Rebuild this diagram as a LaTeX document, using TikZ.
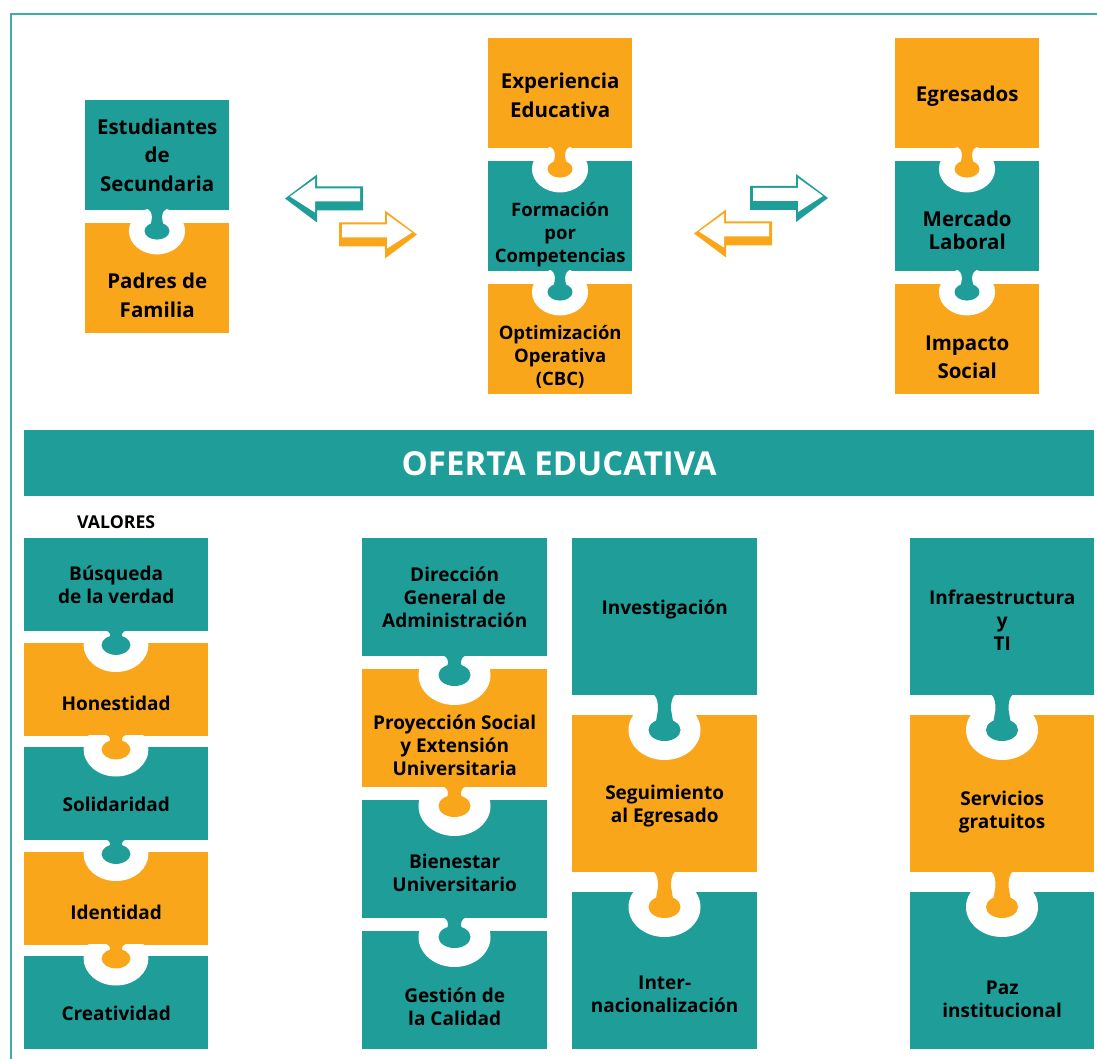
\documentclass[tikz,border=0pt]{standalone}
\usepackage{fontspec}
\setmainfont{Open Sans}
\usetikzlibrary{positioning}

\definecolor{verdeazul}{HTML}{1E9D99}
\definecolor{naranja}{HTML}{F9A61B}

\tikzset{
  pieza/.style={inner sep=0pt, anchor=north west},
  texto/.style={align=center, inner sep=0pt, font=\bfseries\fontsize{19}{23}\selectfont},
  flecha/.pic={
    \fill[fill=#1] (0,-12) -- (46,-12) -- (46,-24) -- (78,0) -- (46,24) -- (46,12) -- (0,12) -- cycle;
    \fill[white] (3,-10) -- (48,-10) -- (48,-20) -- (73,-2) -- (48,14) -- (48,3) -- (3,3) -- cycle;
  }
}

\newcommand{\encaje}[5]{%
  \pgfmathsetmacro\encx{#1}%
  \pgfmathsetmacro\ency{#2}%
  \pgfmathsetmacro\encc{#3}%
  \pgfmathsetmacro\encs{#5}%
  \pgfmathsetmacro\encm{(\ency+\encc)/2}%
  \begin{scope}
    \clip ({\encx-60},\ency) rectangle ({\encx+60},{\encc+60});
    \fill[white] (\encx,\encc) ellipse [x radius={36*\encs}, y radius={30*\encs}];
  \end{scope}
  \fill[fill=#4] (\encx,\encc) ellipse [x radius={16*\encs}, y radius={11*\encs}];
  \fill[fill=#4] ({\encx-12*\encs},{\ency-1}) .. controls ({\encx-6*\encs},{\ency+1}) and ({\encx-6*\encs},{\encm-3}) .. ({\encx-7*\encs},\encm) -- ({\encx-10*\encs},\encc) -- ({\encx+10*\encs},\encc) -- ({\encx+7*\encs},\encm) .. controls ({\encx+6*\encs},{\encm-3}) and ({\encx+6*\encs},{\ency+1}) .. ({\encx+12*\encs},{\ency-1}) -- cycle;
}

\begin{document}
\begin{tikzpicture}[x=1pt, y=-1pt]
\useasboundingbox (0,0) rectangle (1097,1059);
\draw[verdeazul!85!white, line width=2pt] (11,1070) |- (1110,14);

\foreach \txt/\col/\dy/\fs/\ls [count=\n] in {Estudiantes\\de\\Secundaria/verdeazul/0pt/20.5/28.5, Padres de\\Familia/naranja/-17pt/20.5/28.5}{
  \node[pieza, fill=\col, minimum width=144pt, minimum height=110pt] (E\n) at (85,{100+(\n-1)*123}) {};
  \node[texto, font=\bfseries\fontsize{\fs}{\ls}\selectfont] (Et\n) at ([yshift=\dy]E\n.center) {\txt};
}
\foreach \txt/\col/\dy/\fs/\ls [count=\n] in {Experiencia\\Educativa/naranja/-2pt/20.5/28.5, Formación\\por\\Competencias/verdeazul/-18pt/18.5/23, Optimización\\Operativa\\(CBC)/naranja/-18pt/18.5/23}{
  \node[pieza, fill=\col, minimum width=144pt, minimum height=110pt] (P\n) at (488,{38+(\n-1)*123}) {};
  \node[texto, font=\bfseries\fontsize{\fs}{\ls}\selectfont] (Pt\n) at ([yshift=\dy]P\n.center) {\txt};
}
\foreach \txt/\col/\dy/\fs/\ls [count=\n] in {Egresados/naranja/-3pt/20.5/28.5, Mercado\\Laboral/verdeazul/-14pt/20.5/23, Impacto\\Social/naranja/-18pt/20.5/28.5}{
  \node[pieza, fill=\col, minimum width=144pt, minimum height=110pt] (S\n) at (895,{38+(\n-1)*123}) {};
  \node[texto, font=\bfseries\fontsize{\fs}{\ls}\selectfont] (St\n) at ([yshift=\dy]S\n.center) {\txt};
}

\pic at (339,234.5) {flecha=naranja};
\pic[xscale=-1] at (363,198.5) {flecha=verdeazul};
\pic at (750,198) {flecha=verdeazul};
\pic[xscale=-1] at (772,233.5) {flecha=naranja};

\node[pieza, fill=verdeazul, minimum width=1070pt, minimum height=66pt, text=white, font=\bfseries\fontsize{33}{40}\selectfont] (oferta) at (24,430) {OFERTA EDUCATIVA};

\foreach \txt/\col/\dy [count=\n] in {Búsqueda\\de la verdad/verdeazul/0pt, Honestidad/naranja/-14pt, Solidaridad/verdeazul/-11pt, Identidad/naranja/-14pt, Creatividad/verdeazul/-11pt}{
  \node[pieza, fill=\col, minimum width=184pt, minimum height=93pt] (V\n) at (24,{538+(\n-1)*104.5}) {};
  \node[texto] (Vt\n) at ([yshift=\dy]V\n.center) {\txt};
}
\node[texto, font=\bfseries\fontsize{17.7}{20}\selectfont, above=9pt of V1] (valores) {VALORES};

\foreach \txt/\col/\dy [count=\n] in {Dirección\\General de\\Administración/verdeazul/0pt, Proyección Social\\y Extensión\\Universitaria/naranja/-17pt, Bienestar\\Universitario/verdeazul/-14pt, Gestión de\\la Calidad/verdeazul/-17pt}{
  \node[pieza, fill=\col, minimum width=185pt, minimum height=118pt] (G\n) at (362,{538+(\n-1)*131}) {};
  \node[texto] (Gt\n) at ([yshift=\dy]G\n.center) {\txt};
}
\foreach \txt/\col/\dy [count=\n] in {Investigación/verdeazul/7pt, Seguimiento\\al Egresado/naranja/-12pt, Inter-\\nacionalización/verdeazul/-24pt}{
  \node[pieza, fill=\col, minimum width=185pt, minimum height=157pt] (I\n) at (572,{538+(\n-1)*177}) {};
  \node[texto] (It\n) at ([yshift=\dy]I\n.center) {\txt};
}
\foreach \txt/\col/\dy [count=\n] in {Infraestructura\\y\\TI/verdeazul/-4pt, Servicios\\gratuitos/naranja/-18pt, Paz\\institucional/verdeazul/-29pt}{
  \node[pieza, fill=\col, minimum width=184pt, minimum height=157pt] (A\n) at (910,{538+(\n-1)*177}) {};
  \node[texto] (At\n) at ([yshift=\dy]A\n.center) {\txt};
}

\encaje{157}{210}{231}{verdeazul}{0.78}
\foreach \col [count=\n] in {naranja,verdeazul}{
  \encaje{560}{148+(\n-1)*123}{169+(\n-1)*123}{\col}{0.78}
  \encaje{967}{148+(\n-1)*123}{169+(\n-1)*123}{\col}{0.78}
}
\foreach \col [count=\n] in {verdeazul,naranja,verdeazul,naranja}{
  \encaje{116}{631+(\n-1)*104.5}{645+(\n-1)*104.5}{\col}{0.9}
}
\foreach \col [count=\n] in {verdeazul,naranja,verdeazul}{
  \encaje{454.5}{656+(\n-1)*131}{675+(\n-1)*131}{\col}{1}
}
\foreach \col [count=\n] in {verdeazul,naranja}{
  \encaje{664.5}{695+(\n-1)*177}{730+(\n-1)*177}{\col}{1}
  \encaje{1002}{695+(\n-1)*177}{730+(\n-1)*177}{\col}{1}
}
\end{tikzpicture}
\end{document}
